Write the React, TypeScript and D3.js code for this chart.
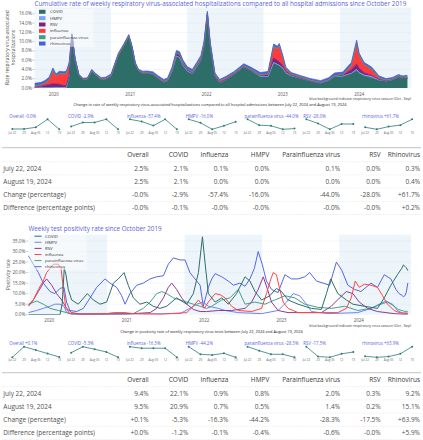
import React from 'react';
import * as d3 from 'd3';

const FONT = '"Open Sans", "DejaVu Sans", sans-serif';
const TITLE_COLOR = '#5b62d9';
const SPARK_COLOR = '#2b7d77';

const seriesKeys = ['COVID', 'HMPV', 'RSV', 'influenza', 'parainfluenza virus', 'rhinovirus'];
const hospColors = ['#2e6e68', '#7aa2ff', '#7a2481', '#ff3b3b', '#3c9e8e', '#4b5fd6'];
const posColors = ['#2e6e68', '#6f86f0', '#8e3a96', '#ff4646', '#45a08c', '#5667e0'];

const seasons = [['2019-10-01', '2020-10-01'], ['2021-10-01', '2022-10-01'], ['2023-10-01', '2024-10-01']];
const yearTicks = ['2020-01-01', '2021-01-01', '2022-01-01', '2023-01-01', '2024-01-01'];
const yearLabels = ['2020', '2021', '2022', '2023', '2024'];

// last five weeks (sparklines + tables)
const sparkWeeks = ['2024-07-22', '2024-07-29', '2024-08-05', '2024-08-12', '2024-08-19'];
const sparkTickLabels = ['Jul 22', '29', 'Aug 05', '12', '19'];
const sparkNames = ['Overall', 'COVID', 'influenza', 'HMPV', 'parainfluenza virus', 'RSV', 'rhinovirus'];
const tableHeaders = ['Overall', 'COVID', 'Influenza', 'HMPV', 'Parainfluenza virus', 'RSV', 'Rhinovirus'];
const tableRowLabels = ['July 22, 2024', 'August 19, 2024', 'Change (percentage)', 'Difference (percentage points)'];

const hospRecentOverall = [2.501, 2.501, 2.5066, 2.533, 2.5];
const hospRecentCovid = [2.13, 2.22, 2.22, 2.29, 2.068];
const hospRecentInfluenza = [0.08, 0.0698, 0.051, 0.08, 0.0341];
const hospRecentHmpv = [0.04, 0.0308, 0.013, 0.0225, 0.0336];
const hospRecentPara = [0.08, 0.0577, 0.0554, 0.0421, 0.0448];
const hospRecentRsv = [0.03, 0.0226, 0.0121, 0.0216, 0.0216];
const hospRecentRhino = [0.27, 0.228, 0.284, 0.315, 0.4366];

const posRecentOverall = [9.449, 9.76, 9.66, 9.56, 9.458];
const posRecentCovid = [22.1, 23.65, 23.0, 22.3, 20.93];
const posRecentInfluenza = [0.86, 0.84, 0.84, 0.84, 0.72];
const posRecentHmpv = [0.84, 0.573, 0.551, 0.608, 0.469];
const posRecentPara = [1.98, 1.77, 1.58, 1.58, 1.42];
const posRecentRsv = [0.28, 0.189, 0.182, 0.214, 0.231];
const posRecentRhino = [9.2, 8.55, 8.98, 10.7, 15.08];

// cumulative hospitalization rate history (%), before the last five weeks
const hospDates = [
  '2019-10-01', '2019-11-01', '2019-11-20', '2019-12-10', '2019-12-28', '2020-01-12', '2020-01-28', '2020-02-15', '2020-03-01', '2020-03-15',
  '2020-03-28', '2020-04-12', '2020-04-30', '2020-05-20', '2020-06-10', '2020-07-01', '2020-07-20', '2020-08-15', '2020-09-05', '2020-10-01',
  '2020-11-05', '2020-12-01', '2020-12-25', '2021-01-10', '2021-01-25', '2021-02-10', '2021-03-01', '2021-03-25', '2021-04-20', '2021-05-15',
  '2021-06-10', '2021-06-28', '2021-07-20', '2021-08-10', '2021-08-25', '2021-09-10', '2021-10-01', '2021-10-25', '2021-11-15', '2021-12-05',
  '2021-12-20', '2022-01-05', '2022-01-18', '2022-02-10', '2022-03-05', '2022-04-05', '2022-05-12', '2022-06-28', '2022-07-30', '2022-09-15',
  '2022-10-22', '2022-11-18', '2022-12-05', '2022-12-15', '2023-01-01', '2023-01-15', '2023-02-10', '2023-03-28', '2023-05-15', '2023-07-01',
  '2023-08-08', '2023-09-05', '2023-10-15', '2023-11-25', '2023-12-20', '2024-01-01', '2024-01-25', '2024-03-01', '2024-04-05', '2024-05-08',
  '2024-06-06', '2024-07-08',
];
const hospCovid = [
  0, 0, 0, 0, 0, 0, 0, 0, 0, 2.5,
  11.2, 6.2, 2.8, 1.9, 1.95, 3.7, 2.8, 1.9, 1.95, 2.6,
  7.1, 9.15, 11.2, 8.7, 5.2, 3.7, 3.25, 3.25, 3.0, 2.1,
  1.3, 1.5, 3.6, 6.9, 6.6, 4.9, 3.6, 3.1, 4.55, 5.95,
  9.0, 15.7, 9.3, 2.5, 1.1, 1.8, 2.9, 4.6, 3.9, 2.5,
  2.4, 5.4, 5.0, 4.8, 4.2, 3.2, 2.6, 2.05, 1.45, 1.05,
  1.6, 2.5, 2.55, 3.1, 3.8, 3.2, 2.6, 2.2, 1.6, 1.45,
  1.75, 2.35,
];
const hospHmpv = [
  0.05, 0.05, 0.05, 0.05, 0.05, 0.1, 0.1, 0.1, 0.1, 0.08,
  0.02, 0, 0, 0, 0, 0, 0, 0, 0, 0,
  0, 0, 0, 0, 0, 0, 0, 0, 0, 0,
  0, 0, 0, 0, 0, 0, 0.02, 0.03, 0.05, 0.05,
  0.05, 0.05, 0.05, 0.05, 0.05, 0.05, 0.05, 0.03, 0.02, 0.02,
  0.05, 0.1, 0.1, 0.1, 0.1, 0.1, 0.08, 0.05, 0.03, 0.02,
  0.02, 0.02, 0.03, 0.1, 0.2, 0.15, 0.2, 0.3, 0.2, 0.1,
  0.05, 0.04,
];
const hospRsv = [
  0.15, 0.3, 0.5, 0.7, 0.9, 0.8, 0.7, 0.5, 0.4, 0.2,
  0.05, 0.03, 0, 0, 0, 0, 0, 0, 0, 0,
  0, 0, 0, 0, 0, 0, 0, 0, 0.02, 0.03,
  0.05, 0.12, 0.35, 0.6, 0.6, 0.5, 0.3, 0.2, 0.2, 0.15,
  0.1, 0.1, 0.05, 0.05, 0.05, 0.03, 0.03, 0.03, 0.05, 0.2,
  0.4, 1.0, 0.9, 0.8, 0.5, 0.3, 0.1, 0.05, 0.02, 0.02,
  0.05, 0.1, 0.2, 0.8, 1.2, 0.9, 0.5, 0.2, 0.05, 0.03,
  0.03, 0.03,
];
const hospInfluenza = [
  0.15, 0.3, 0.5, 1.0, 2.8, 1.6, 2.3, 2.4, 2.6, 2.3,
  0.2, 0.05, 0, 0, 0, 0, 0, 0, 0, 0,
  0, 0, 0, 0, 0, 0, 0, 0, 0, 0,
  0, 0, 0, 0, 0, 0.02, 0.05, 0.08, 0.1, 0.3,
  0.4, 0.3, 0.3, 0.3, 0.3, 0.3, 0.15, 0.05, 0.05, 0.05,
  0.1, 2.4, 2.4, 3.3, 1.7, 0.5, 0.2, 0.15, 0.1, 0.05,
  0.05, 0.05, 0.1, 0.9, 4.4, 2.7, 1.7, 1.3, 0.3, 0.1,
  0.05, 0.1,
];
const hospPara = [
  0.1, 0.05, 0.05, 0.05, 0.05, 0.05, 0.05, 0.05, 0.05, 0.02,
  0, 0, 0, 0, 0, 0, 0, 0.02, 0.03, 0.05,
  0.05, 0.03, 0.02, 0.02, 0.02, 0.02, 0.03, 0.05, 0.05, 0.08,
  0.1, 0.1, 0.1, 0.1, 0.1, 0.1, 0.1, 0.1, 0.1, 0.1,
  0.05, 0.05, 0.05, 0.05, 0.05, 0.05, 0.05, 0.1, 0.1, 0.1,
  0.1, 0.1, 0.1, 0.1, 0.1, 0.05, 0.05, 0.05, 0.05, 0.05,
  0.05, 0.05, 0.05, 0.05, 0.1, 0.05, 0.05, 0.05, 0.05, 0.05,
  0.05, 0.08,
];
const hospRhino = [
  0.55, 0.5, 0.5, 0.5, 0.5, 0.45, 0.45, 0.45, 0.45, 0.4,
  0.25, 0.2, 0.2, 0.2, 0.25, 0.3, 0.3, 0.3, 0.35, 0.35,
  0.35, 0.3, 0.3, 0.3, 0.3, 0.3, 0.35, 0.35, 0.4, 0.4,
  0.4, 0.4, 0.45, 0.5, 0.5, 0.5, 0.5, 0.5, 0.5, 0.45,
  0.4, 0.35, 0.3, 0.3, 0.3, 0.3, 0.35, 0.4, 0.4, 0.45,
  0.5, 0.5, 0.5, 0.5, 0.4, 0.35, 0.3, 0.3, 0.35, 0.4,
  0.45, 0.5, 0.5, 0.55, 0.6, 0.5, 0.45, 0.45, 0.4, 0.3,
  0.3, 0.3,
];

// weekly test positivity history (%), [date, value], before the last five weeks
const covidPos: [string, number][] = [
  ['2019-09-25', 0], ['2020-02-21', 0], ['2020-03-02', 5], ['2020-03-12', 22], ['2020-03-20', 19], ['2020-03-31', 12], ['2020-04-16', 7],
  ['2020-05-17', 5], ['2020-06-29', 10], ['2020-07-27', 7], ['2020-08-28', 5], ['2020-09-28', 6], ['2020-10-30', 15], ['2020-11-22', 17],
  ['2020-12-19', 20], ['2021-01-08', 14], ['2021-02-01', 8], ['2021-03-04', 5], ['2021-04-05', 6], ['2021-05-06', 4], ['2021-06-07', 3],
  ['2021-07-08', 4], ['2021-08-24', 8], ['2021-10-11', 5], ['2021-11-11', 10], ['2021-12-05', 20], ['2021-12-24', 37], ['2022-01-05', 25],
  ['2022-01-21', 10], ['2022-02-22', 6], ['2022-03-25', 8], ['2022-04-25', 5], ['2022-06-03', 10], ['2022-07-13', 18], ['2022-08-05', 16],
  ['2022-08-29', 11], ['2022-09-29', 7], ['2022-11-07', 9], ['2022-12-08', 12.5], ['2023-01-01', 11], ['2023-02-01', 7], ['2023-03-20', 5],
  ['2023-05-22', 3], ['2023-07-08', 2.5], ['2023-08-01', 10], ['2023-08-21', 17], ['2023-09-24', 10], ['2023-11-03', 7], ['2023-12-04', 5],
  ['2024-01-27', 4], ['2024-03-29', 3], ['2024-04-30', 8], ['2024-05-31', 14], ['2024-07-01', 19],
];
const hmpvPos: [string, number][] = [
  ['2019-09-25', 1], ['2019-11-03', 2], ['2019-12-04', 3], ['2020-01-05', 4], ['2020-01-28', 5], ['2020-02-21', 5], ['2020-03-11', 4],
  ['2020-03-23', 1], ['2020-04-16', 0.2], ['2021-09-09', 0.5], ['2021-10-26', 3], ['2021-11-27', 5], ['2021-12-28', 6], ['2022-01-21', 4],
  ['2022-03-09', 3], ['2022-04-10', 2], ['2022-06-11', 1], ['2022-09-29', 0.5], ['2022-12-16', 2], ['2023-01-25', 6], ['2023-02-25', 10],
  ['2023-03-28', 9], ['2023-04-29', 5], ['2023-05-22', 1.5], ['2023-08-08', 0.5], ['2023-12-27', 1], ['2024-02-27', 3], ['2024-04-06', 5],
  ['2024-05-08', 6.5], ['2024-06-08', 5], ['2024-07-01', 2],
];
const rsvPos: [string, number][] = [
  ['2019-09-25', 4], ['2019-10-18', 7], ['2019-11-11', 11], ['2019-12-04', 15], ['2019-12-20', 17], ['2020-01-13', 14], ['2020-02-05', 10],
  ['2020-02-29', 7], ['2020-03-23', 3], ['2020-04-16', 1], ['2020-05-25', 0.3], ['2020-12-24', 0.3], ['2021-04-21', 1], ['2021-05-22', 3],
  ['2021-06-23', 8], ['2021-07-16', 13], ['2021-08-01', 15], ['2021-08-24', 12], ['2021-09-17', 8], ['2021-10-11', 5], ['2021-11-11', 2.5],
  ['2021-12-13', 1.5], ['2022-01-13', 1.5], ['2022-03-09', 2], ['2022-05-11', 2], ['2022-07-13', 3], ['2022-08-13', 6], ['2022-09-13', 12],
  ['2022-10-07', 18], ['2022-10-27', 12], ['2022-11-15', 6], ['2022-12-16', 2], ['2023-02-01', 1], ['2023-07-08', 1], ['2023-08-24', 4],
  ['2023-10-02', 8], ['2023-11-03', 11], ['2023-12-04', 10], ['2024-01-03', 6], ['2024-02-11', 3], ['2024-03-29', 1.5], ['2024-06-16', 0.5],
];
const influenzaPos: [string, number][] = [
  ['2019-09-25', 4.5], ['2019-10-18', 7], ['2019-11-11', 12], ['2019-12-04', 16], ['2019-12-20', 20], ['2020-01-05', 22], ['2020-01-21', 24],
  ['2020-02-13', 24], ['2020-02-26', 22], ['2020-03-08', 12], ['2020-03-20', 3], ['2020-04-08', 0.5], ['2020-06-10', 0.2], ['2020-09-28', 0.5],
  ['2020-10-30', 1], ['2020-12-24', 1], ['2021-02-01', 0.5], ['2021-06-07', 0.2], ['2021-10-11', 1], ['2021-11-11', 4], ['2021-12-05', 7],
  ['2021-12-20', 5], ['2022-01-01', 3], ['2022-01-21', 6], ['2022-02-06', 8], ['2022-02-22', 10], ['2022-03-17', 9.5], ['2022-04-10', 8],
  ['2022-05-11', 4], ['2022-06-11', 2], ['2022-08-13', 1.5], ['2022-09-29', 3], ['2022-10-22', 10], ['2022-11-12', 17], ['2022-11-23', 20],
  ['2022-12-08', 19], ['2022-12-24', 12], ['2023-01-09', 6], ['2023-02-01', 3], ['2023-03-20', 1], ['2023-09-24', 1], ['2023-11-03', 3],
  ['2023-11-26', 8], ['2023-12-15', 16], ['2024-01-03', 13], ['2024-01-27', 14.5], ['2024-02-27', 14], ['2024-03-29', 13], ['2024-04-22', 9],
  ['2024-05-15', 5], ['2024-06-16', 2], ['2024-07-09', 1],
];
const paraPos: [string, number][] = [
  ['2019-09-25', 5], ['2019-11-03', 6.5], ['2019-12-04', 5], ['2020-01-05', 3], ['2020-02-13', 2], ['2020-03-23', 1], ['2020-04-24', 0.3],
  ['2021-02-01', 0.5], ['2021-03-20', 3], ['2021-04-21', 6], ['2021-05-22', 10], ['2021-06-15', 11], ['2021-07-08', 10], ['2021-08-09', 8],
  ['2021-09-09', 7], ['2021-10-11', 6], ['2021-11-11', 5], ['2021-12-13', 4], ['2022-01-13', 3], ['2022-02-06', 4], ['2022-03-25', 7],
  ['2022-05-03', 8], ['2022-06-11', 12], ['2022-07-13', 5], ['2022-08-29', 6], ['2022-10-15', 5], ['2022-12-01', 7], ['2023-01-17', 9],
  ['2023-03-05', 8], ['2023-04-21', 5], ['2023-06-22', 3.5], ['2023-08-24', 3], ['2023-10-26', 4], ['2023-12-27', 2], ['2024-02-27', 3],
  ['2024-04-14', 5], ['2024-05-15', 6], ['2024-06-16', 4], ['2024-07-05', 2.5],
];
const rhinoPos: [string, number][] = [
  ['2019-09-25', 28], ['2019-10-18', 24], ['2019-11-11', 20], ['2019-12-04', 15], ['2020-01-05', 11], ['2020-01-28', 10], ['2020-02-21', 12.5],
  ['2020-03-11', 13], ['2020-03-23', 6], ['2020-04-08', 2], ['2020-05-10', 1.5], ['2020-06-10', 3], ['2020-07-12', 8], ['2020-08-12', 13],
  ['2020-09-20', 17], ['2020-10-14', 15], ['2020-11-14', 13], ['2020-12-08', 9], ['2020-12-24', 5], ['2021-01-16', 10], ['2021-02-17', 14],
  ['2021-03-20', 15], ['2021-04-21', 17], ['2021-05-22', 18], ['2021-06-23', 18.5], ['2021-07-16', 24], ['2021-08-09', 27], ['2021-09-09', 26],
  ['2021-10-03', 26], ['2021-10-26', 20], ['2021-11-19', 17], ['2021-12-13', 14], ['2021-12-28', 4], ['2022-01-21', 13], ['2022-02-06', 17],
  ['2022-02-22', 19.5], ['2022-03-25', 18], ['2022-04-25', 16], ['2022-05-19', 14], ['2022-06-19', 15], ['2022-07-13', 13.5], ['2022-08-05', 17],
  ['2022-08-26', 22], ['2022-09-13', 30], ['2022-10-02', 24], ['2022-10-22', 16], ['2022-11-15', 12], ['2022-12-16', 10.5], ['2023-01-17', 19],
  ['2023-02-17', 17], ['2023-03-20', 17], ['2023-04-21', 18], ['2023-05-14', 20], ['2023-06-15', 16], ['2023-07-16', 15], ['2023-08-16', 14],
  ['2023-09-17', 25], ['2023-10-13', 21], ['2023-11-10', 14], ['2023-12-12', 12], ['2024-01-11', 11], ['2024-02-04', 13], ['2024-02-27', 15],
  ['2024-03-29', 13], ['2024-04-30', 19], ['2024-05-31', 17], ['2024-06-24', 12], ['2024-07-09', 10],
];

const parse = d3.timeParse('%Y-%m-%d') as (s: string) => Date;
const locale = d3.formatLocale({ decimal: '.', thousands: ',', grouping: [3], currency: ['$', ''], minus: '-' });
const pct1 = locale.format('.1f');
const signed1 = locale.format('+.1f');

const hospRecentByKey = [hospRecentCovid, hospRecentHmpv, hospRecentRsv, hospRecentInfluenza, hospRecentPara, hospRecentRhino];
const hospHistByKey = [hospCovid, hospHmpv, hospRsv, hospInfluenza, hospPara, hospRhino];
const posHistByKey = [covidPos, hmpvPos, rsvPos, influenzaPos, paraPos, rhinoPos];
const posRecentByKey = [posRecentCovid, posRecentHmpv, posRecentRsv, posRecentInfluenza, posRecentPara, posRecentRhino];

const hospSpark = [hospRecentOverall, hospRecentCovid, hospRecentInfluenza, hospRecentHmpv, hospRecentPara, hospRecentRsv, hospRecentRhino];
const posSpark = [posRecentOverall, posRecentCovid, posRecentInfluenza, posRecentHmpv, posRecentPara, posRecentRsv, posRecentRhino];

function changeOf(v: number[]) {
  const a = v[0], b = v[v.length - 1];
  return (b / a - 1) * 100;
}

function Shading({ x, L, R, T, B }: any) {
  return (
    <g>
      {seasons.map(([s, e], i) => {
        const x0 = Math.max(L, x(parse(s)));
        const x1 = Math.min(R, x(parse(e)));
        return <rect key={i} x={x0} y={T} width={Math.max(0, x1 - x0)} height={B - T} fill="#edf5fa" />;
      })}
    </g>
  );
}

function YAxis({ y, L, R, ticks, labelRight }: any) {
  return (
    <g>
      {ticks.map((t: number) => (
        <g key={t}>
          {t > 0 && <line x1={L} x2={R} y1={y(t)} y2={y(t)} stroke="#d8dde2" strokeWidth={0.5} strokeDasharray="1,1" />}
          <line x1={L - 2.5} x2={L} y1={y(t)} y2={y(t)} stroke="#9aa" strokeWidth={0.5} />
          <text x={labelRight} y={y(t) + 1.6} fontSize={4.6} textAnchor="end" fill="#555">{pct1(t)}%</text>
        </g>
      ))}
    </g>
  );
}

function XAxis({ x, yBase }: any) {
  return (
    <g>
      {yearTicks.map((t, i) => (
        <text key={t} x={x(parse(t))} y={yBase} fontSize={4.4} textAnchor="middle" fill="#555">{yearLabels[i]}</text>
      ))}
    </g>
  );
}

function StackChart() {
  const L = 34.5, R = 411, T = 7.3, B = 88;
  const x = d3.scaleTime().domain([parse('2019-10-01'), parse('2024-09-05')]).range([L, R]);
  const y = d3.scaleLinear().domain([0, 17.4]).range([B, T]);
  const dates = [...hospDates, ...sparkWeeks].map(parse);
  const rows = dates.map((d, i) => {
    const r: any = { date: d };
    seriesKeys.forEach((k, j) => {
      const hist = hospHistByKey[j];
      r[k] = i < hist.length ? hist[i] : hospRecentByKey[j][i - hist.length];
    });
    return r;
  });
  const stacked = d3.stack<any>().keys(seriesKeys)(rows);
  const area = d3.area<any>().x((d) => x(d.data.date)).y0((d) => y(d[0])).y1((d) => y(d[1]));
  const line = d3.line<any>().x((d) => x(d.data.date)).y((d) => y(d[1]));
  return (
    <g>
      <defs>
        <clipPath id="clip1"><rect x={L} y={T} width={R - L} height={B - T} /></clipPath>
      </defs>
      <Shading x={x} L={L} R={R} T={T} B={B} />
      <YAxis y={y} L={L} R={R} ticks={y.ticks(8)} labelRight={31.8} />
      <g clipPath="url(#clip1)">
        {stacked.map((s, i) => (
          <path key={'a' + i} d={area(s) || ''} fill={hospColors[i]} />
        ))}
        {stacked.map((s, i) => (
          <path key={'l' + i} d={line(s) || ''} fill="none" stroke={hospColors[i]} strokeWidth={0.8} />
        ))}
      </g>
      <XAxis x={x} yBase={95.8} />
      <text fontSize={6.3} fill={TITLE_COLOR} x={34.5} y={5.6}>
        Cumulative rate of weekly respiratory virus-associated hospitalizations compared to all hospital admissions since October 2019
      </text>
      <g transform={`translate(9,${(T + B) / 2}) rotate(-90)`}>
        <text fontSize={4.9} textAnchor="middle" fill="#444" y={0}>Rate respiratory virus-associated</text>
        <text fontSize={4.9} textAnchor="middle" fill="#444" y={6.3}>hospitalizations</text>
      </g>
      <rect x={35.5} y={8.8} width={58} height={38} fill="#ffffff" fillOpacity={0.45} />
      {seriesKeys.map((k, i) => {
        const cy = 11.8 + i * 6.35;
        return (
          <g key={k}>
            <rect x={39} y={cy - 2} width={6.5} height={4} fill={hospColors[i]} />
            <text x={50} y={cy + 1.5} fontSize={4.3} fill="#333">{k}</text>
          </g>
        );
      })}
      <text x={411} y={99.5} fontSize={3.6} textAnchor="end" fill="#333">blue background indicate respiratory virus season (Oct - Sep)</text>
      <text x={210} y={105.6} fontSize={3.95} textAnchor="middle" fill="#222">
        Change in rate of weekly respiratory virus-associated hospitalizations compared to all hospital admissions between July 22, 2024 and August 19, 2024
      </text>
    </g>
  );
}

function LineChart() {
  const L = 28, R = 411, T = 234.7, B = 314.7;
  const x = d3.scaleTime().domain([parse('2019-09-23'), parse('2024-09-03')]).range([L, R]);
  const y = d3.scaleLinear().domain([0, 38]).range([B, T]);
  const line = d3.line<[Date, number]>().x((d) => x(d[0])).y((d) => y(d[1]));
  const series = seriesKeys.map((k, i) => {
    const hist: [Date, number][] = posHistByKey[i].map(([d, v]) => [parse(d), v]);
    const recent: [Date, number][] = sparkWeeks.map((d, j) => [parse(d), posRecentByKey[i][j]]);
    return [...hist, ...recent];
  });
  const drawOrder = [5, 1, 4, 2, 3, 0];
  return (
    <g>
      <defs>
        <clipPath id="clip2"><rect x={L} y={T} width={R - L} height={B - T} /></clipPath>
      </defs>
      <Shading x={x} L={L} R={R} T={T} B={B} />
      <YAxis y={y} L={L} R={R} ticks={y.ticks(8)} labelRight={25.3} />
      <g clipPath="url(#clip2)">
        {drawOrder.map((i) => (
          <path key={i} d={line(series[i]) || ''} fill="none" stroke={posColors[i]} strokeWidth={1} strokeLinejoin="round" />
        ))}
      </g>
      <XAxis x={x} yBase={321.8} />
      <text fontSize={6.3} fill={TITLE_COLOR} x={28.5} y={231}>Weekly test positivity rate since October 2019</text>
      <text transform={`translate(9.5,${(T + B) / 2}) rotate(-90)`} fontSize={4.9} textAnchor="middle" fill="#444">Positivity rate</text>
      <rect x={29.5} y={232.5} width={57} height={37.5} fill="#ffffff" fillOpacity={0.45} />
      {seriesKeys.map((k, i) => {
        const cy = 236.2 + i * 6.1;
        return (
          <g key={k}>
            <line x1={34.5} x2={41.5} y1={cy} y2={cy} stroke={posColors[i]} strokeWidth={1} />
            <text x={45} y={cy + 1.5} fontSize={4.3} fill="#333">{k}</text>
          </g>
        );
      })}
      <text x={411} y={326.6} fontSize={3.6} textAnchor="end" fill="#333">blue background indicate respiratory virus season (Oct - Sep)</text>
      <text x={211.5} y={333} fontSize={3.95} textAnchor="middle" fill="#222">
        Change in positivity rate of weekly respiratory virus tests between July 22, 2024 and August 19, 2024
      </text>
    </g>
  );
}

function Sparklines({ data, titleY, top, bottom, tickY }: any) {
  const weeks = sparkWeeks.map(parse);
  return (
    <g>
      {data.map((vals: number[], i: number) => {
        const left = 12.3 + i * 58.8;
        const x = d3.scaleTime().domain([weeks[0], weeks[4]]).range([left, left + 47]);
        const ext = d3.extent(vals) as [number, number];
        const y = d3.scaleLinear().domain(ext).range([bottom, top]);
        const pts: [Date, number][] = weeks.map((w, j) => [w, vals[j]]);
        const ln = d3.line<[Date, number]>().x((d) => x(d[0])).y((d) => y(d[1]));
        return (
          <g key={i}>
            <text x={left - 3} y={titleY} fontSize={4.4} fill={TITLE_COLOR}>
              {sparkNames[i]} {signed1(changeOf(vals))}%
            </text>
            <path d={ln(pts) || ''} fill="none" stroke={SPARK_COLOR} strokeWidth={0.8} />
            {pts.map((p, j) => (
              <circle key={j} cx={x(p[0])} cy={y(p[1])} r={1} fill={SPARK_COLOR} />
            ))}
            {weeks.map((w, j) => (
              <text key={'t' + j} x={x(w)} y={tickY} fontSize={3} textAnchor="middle" fill="#666">{sparkTickLabels[j]}</text>
            ))}
          </g>
        );
      })}
    </g>
  );
}

function Table({ data, top }: any) {
  const colRight = [148.7, 188.3, 228.3, 269.3, 340, 380.7, 420];
  const rowH = 13.2;
  const headerC = top + 7.3;
  const firstLine = top + 14;
  const cells = data.map((v: number[]) => {
    const a = v[0], b = v[v.length - 1];
    return [pct1(a) + '%', pct1(b) + '%', signed1(changeOf(v)) + '%', signed1(b - a) + '%'];
  });
  return (
    <g fontSize={6.5} fill="#505050">
      <line x1={2} x2={421} y1={top} y2={top} stroke="#cfcfcf" strokeWidth={1.2} />
      {[0, 1, 2, 3, 4].map((r) => (
        <line key={r} x1={2} x2={421} y1={firstLine + r * rowH} y2={firstLine + r * rowH} stroke="#e2e2e2" strokeWidth={0.6} strokeDasharray="1,0.7" />
      ))}
      {tableHeaders.map((h, j) => (
        <text key={h} x={colRight[j]} y={headerC + 2.3} textAnchor="end" fill="#3a3a3a">{h}</text>
      ))}
      {tableRowLabels.map((lab, r) => {
        const cy = firstLine + r * rowH + rowH / 2;
        return (
          <g key={lab}>
            <text x={3.3} y={cy + 2.3}>{lab}</text>
            {cells.map((c: string[], j: number) => (
              <text key={j} x={colRight[j]} y={cy + 2.3} textAnchor="end">{c[r]}</text>
            ))}
          </g>
        );
      })}
    </g>
  );
}

export default function App() {
  return (
    <svg width={423} height={440} style={{ position: 'absolute', left: 0, top: 0, background: '#fff' }} fontFamily={FONT}>
      <StackChart />
      <Sparklines data={hospSpark} titleY={117.6} top={119.3} bottom={129.3} tickY={134.4} />
      <Table data={hospSpark} top={147.7} />
      <LineChart />
      <Sparklines data={posSpark} titleY={344.9} top={346.7} bottom={357.3} tickY={361.1} />
      <Table data={posSpark} top={372.7} />
    </svg>
  );
}
